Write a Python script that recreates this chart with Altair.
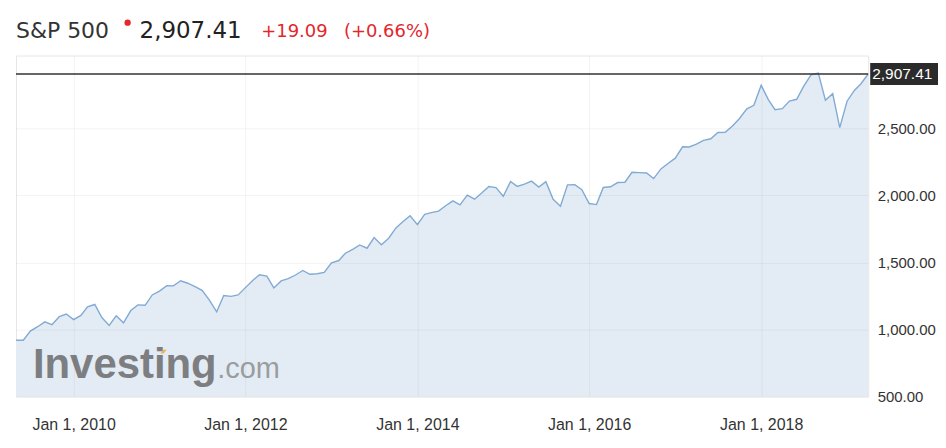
import altair as alt
import pandas as pd

# Monthly closes of the S&P 500, May 2009 – Apr 2019
start_month = "2009-05-01"
n_months = 120
closes = [
    919.14, 919.32, 987.48, 1020.62, 1057.08, 1036.19, 1095.63, 1115.10,
    1073.87, 1104.49, 1169.43, 1186.69, 1089.41, 1030.71, 1101.60, 1049.33, 1141.20, 1183.26, 1180.55, 1257.64,
    1286.12, 1327.22, 1325.83, 1363.61, 1345.20, 1320.64, 1292.28, 1218.89, 1131.42, 1253.30, 1246.96, 1257.60,
    1312.41, 1365.68, 1408.47, 1397.91, 1310.33, 1362.16, 1379.32, 1406.58, 1440.67, 1412.16, 1416.18, 1426.19,
    1498.11, 1514.68, 1569.19, 1597.57, 1630.74, 1606.28, 1685.73, 1632.97, 1681.55, 1756.54, 1805.81, 1848.36,
    1782.59, 1859.45, 1872.34, 1883.95, 1923.57, 1960.23, 1930.67, 2003.37, 1972.29, 2018.05, 2067.56, 2058.90,
    1994.99, 2104.50, 2067.89, 2085.51, 2107.39, 2063.11, 2103.84, 1972.18, 1920.03, 2079.36, 2080.41, 2043.94,
    1940.24, 1932.23, 2059.74, 2065.30, 2096.95, 2098.86, 2173.60, 2170.95, 2168.27, 2126.15, 2198.81, 2238.83,
    2278.87, 2363.64, 2362.72, 2384.20, 2411.80, 2423.41, 2470.30, 2471.65, 2519.36, 2575.26, 2647.58, 2673.61,
    2823.81, 2713.83, 2640.87, 2648.05, 2705.27, 2718.37, 2816.29, 2901.52, 2913.98, 2711.74, 2760.17, 2506.85,
    2704.10, 2784.49, 2834.40, 2907.41,
]
y_ticks = [500, 1000, 1500, 2000, 2500]
x_tick_years = [2010, 2012, 2014, 2016, 2018]
last_value = 2907.41
title_name = "S&P 500"
title_price = "2,907.41"
title_change = "+19.09"
title_pct = "(+0.66%)"

dates = pd.date_range(start_month, periods=n_months, freq="MS").strftime("%Y-%m-%dT00:00:00")
df = pd.DataFrame({"date": list(dates), "value": closes})

W, H = 855, 342
x_scale = alt.Scale(domain=[alt.DateTime(year=2009, month=5, date=1), alt.DateTime(year=2019, month=4, date=1)], nice=False)
y_scale = alt.Scale(domain=[500, 3045], nice=False, zero=False)

x_enc = alt.X("date:T", scale=x_scale, axis=alt.Axis(
    values=[alt.DateTime(year=yr, month=1, date=1) for yr in x_tick_years],
    format="%b %-d, %Y", title=None, ticks=False, domain=False,
    labelFont="Liberation Sans", labelFontSize=16, labelColor="#333333",
    labelPadding=20, gridColor="#000000", gridOpacity=0.05, zindex=1))
y_enc = alt.Y("value:Q", scale=y_scale, axis=alt.Axis(
    orient="right", values=y_ticks, format=",.2f", title=None, ticks=False, domain=False,
    labelFont="Liberation Sans", labelFontSize=15, labelColor="#333333", labelAlign="left",
    labelPadding=9, gridColor="#000000", gridOpacity=0.05, zindex=1))

base = alt.Chart(df)
area = base.mark_area(color="#e3ecf4", opacity=1, clip=True).encode(x=x_enc, y=y_enc)
line = base.mark_line(color="#82abd4", strokeWidth=1.4, clip=True).encode(x="date:T", y="value:Q")

one = pd.DataFrame({"v": [last_value]})
ref_rule = alt.Chart(one).mark_rule(color="#333333", strokeWidth=1.5).encode(
    y="v:Q", x=alt.value(0), x2=alt.value(W))
price_box = alt.Chart(one).mark_rect(color="#2b2b2b", height=22).encode(
    y="v:Q", x=alt.value(857), x2=alt.value(925))
price_txt = alt.Chart(one).mark_text(color="white", font="Liberation Sans", fontSize=15.5,
                                     align="left", baseline="middle").encode(
    y="v:Q", x=alt.value(859), text=alt.value("2,907.41"))

blank = alt.Chart(pd.DataFrame({"k": [0]}))
wm1 = blank.mark_text(text="Investing", font="Liberation Sans", fontWeight="bold", fontSize=42,
                      color="#7c7e81", align="left", baseline="alphabetic").encode(
    x=alt.value(17), y=alt.value(323))
wm2 = blank.mark_text(text=".com", font="Liberation Sans", fontSize=29,
                      color="#9a9ca0", align="left", baseline="alphabetic").encode(
    x=alt.value(202), y=alt.value(323))
wm_dot = blank.mark_point(shape="M-1,0.6L0,-0.6L1,-0.6L0,0.6Z", filled=True, color="#f0b24c",
                          size=40, opacity=1).encode(x=alt.value(148), y=alt.value(297))

t1 = blank.mark_text(text=title_name, font="DejaVu Sans", fontSize=22, color="#333333",
                     align="left", baseline="alphabetic").encode(x=alt.value(0), y=alt.value(-18))
t_dot = blank.mark_point(shape="circle", filled=True, color="#e8262b", size=40, opacity=1).encode(
    x=alt.value(112), y=alt.value(-33))
t2 = blank.mark_text(text=title_price, font="DejaVu Sans", fontSize=23, color="#222222",
                     align="left", baseline="alphabetic").encode(x=alt.value(124), y=alt.value(-18))
t3 = blank.mark_text(text=title_change, font="DejaVu Sans", fontSize=18, color="#e3262c",
                     align="left", baseline="alphabetic").encode(x=alt.value(246), y=alt.value(-19))
t4 = blank.mark_text(text=title_pct, font="DejaVu Sans", fontSize=18, color="#e3262c",
                     align="left", baseline="alphabetic").encode(x=alt.value(329), y=alt.value(-19))

chart = alt.layer(area, wm1, wm2, wm_dot, line, ref_rule, price_box, price_txt, t1, t_dot, t2, t3, t4).properties(
    width=W, height=H,
    autosize=alt.AutoSizeParams(type="none"),
    padding={"left": 8, "top": 47, "right": 70, "bottom": 42},
    background="white",
).configure_view(stroke="#e6e6e6", strokeWidth=1)

chart.save("out.html", embed_options={"renderer": "svg", "actions": False})
